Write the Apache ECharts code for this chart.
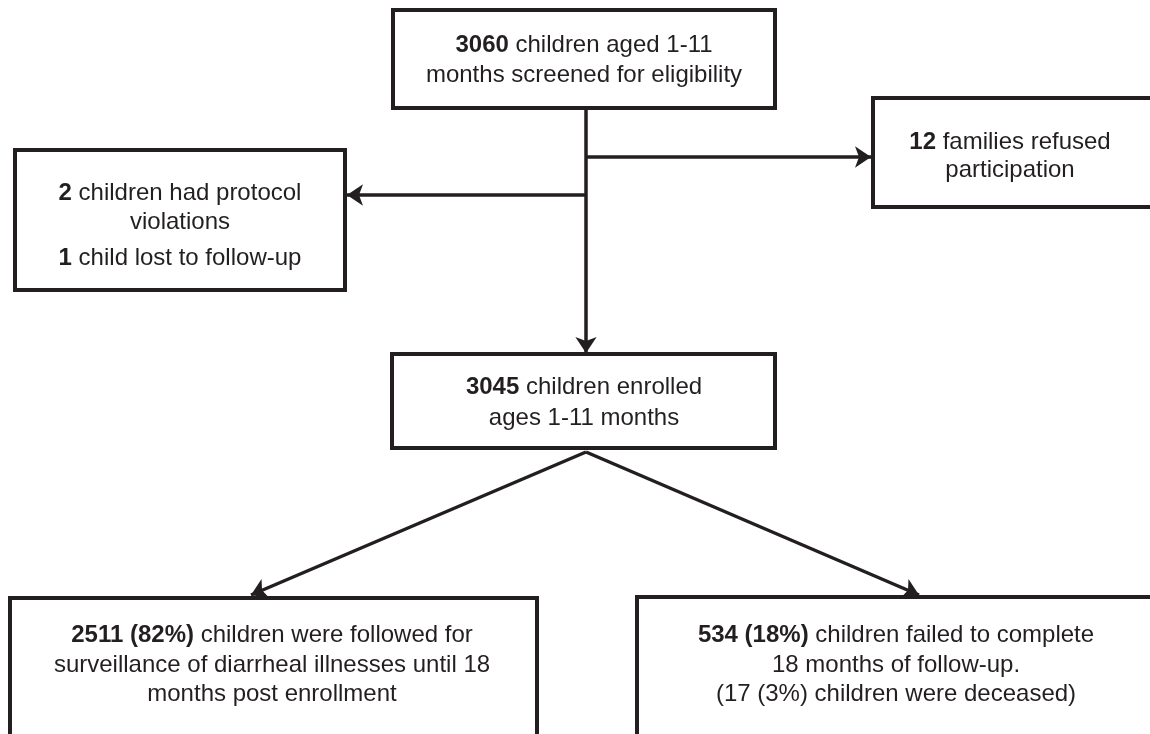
<!DOCTYPE html>
<html>
<head>
<meta charset="utf-8">
<script src="https://cdn.jsdelivr.net/npm/echarts@6/dist/echarts.min.js"></script>
<style>
  html, body { margin: 0; padding: 0; background: #fff; }
  #main { width: 1150px; height: 734px; }
</style>
</head>
<body>
<div id="main"></div>
<script>
// counts
const stepNames = ['screened', 'refused', 'excluded', 'enrolled', 'followed', 'failed']
const stepCounts = [3060, 12, 2, 3045, 2511, 534]
const lostCount = 1
const stepPercents = [null, null, null, null, 82, 18]
const deceasedCount = 17
const deceasedPercent = 3

// text of each box, {b|..} parts are bold
const boxLines = [
  ['{b|' + stepCounts[0] + '} children aged 1-11', 'months screened for eligibility'],
  ['{b|' + stepCounts[1] + '} families refused', 'participation'],
  ['{b|' + stepCounts[2] + '} children had protocol', 'violations', '{b|' + lostCount + '} child lost to follow-up'],
  ['{b|' + stepCounts[3] + '} children enrolled', 'ages 1-11 months'],
  ['{b|' + stepCounts[4] + ' (' + stepPercents[4] + '%)} children were followed for',
    'surveillance of diarrheal illnesses until 18', 'months post enrollment'],
  ['{b|' + stepCounts[5] + ' (' + stepPercents[5] + '%)} children failed to complete',
    '18 months of follow-up.', '(' + deceasedCount + ' (' + deceasedPercent + '%) children were deceased)']
]

// layout of the boxes in the diagram's own units
const boxRects = [
  [393, 10, 775, 108],
  [873, 98, 1160, 207],
  [15, 150, 345, 290],
  [392, 354, 775, 448],
  [10, 598, 537, 745],
  [637, 597, 1160, 745]
]
const textCenterX = [584, 1010, 180, 584, 272, 896]
const textLineY = [
  [45, 75],
  [142, 170],
  [193, 222, 258],
  [387, 418],
  [635, 665, 694],
  [635, 665, 694]
]

// connectors: start and end in diagram units
const arrowPaths = [
  [[586, 108], [586, 353]],
  [[586, 157], [871, 157]],
  [[586, 195], [347, 195]],
  [[586, 452], [251, 595]],
  [[586, 452], [919, 595]]
]

const ink = '#231f20'
const family = '"Liberation Sans", Arial, Helvetica, sans-serif'

var myChart = echarts.init(document.getElementById('main'))

function renderBox(params, api) {
  const i = params.dataIndex
  const r = boxRects[i]
  const p0 = api.coord([r[0], r[1]])
  const p1 = api.coord([r[2], r[3]])
  const children = [{
    type: 'rect',
    shape: { x: p0[0], y: p0[1], width: p1[0] - p0[0], height: p1[1] - p0[1] },
    style: { fill: '#fff', stroke: ink, lineWidth: 4 }
  }]
  boxLines[i].forEach(function (line, k) {
    const pt = api.coord([textCenterX[i], textLineY[i][k]])
    children.push({
      type: 'text',
      x: pt[0],
      y: pt[1],
      style: {
        text: line,
        fill: ink,
        fontFamily: family,
        fontSize: 24,
        align: 'center',
        verticalAlign: 'middle',
        rich: {
          b: { fontWeight: 'bold', fontFamily: family, fontSize: 24, fill: ink }
        }
      }
    })
  })
  return { type: 'group', children: children }
}

var option = {
  backgroundColor: '#fff',
  animation: false,
  grid: { left: 0, right: 0, top: 0, bottom: 0 },
  xAxis: { type: 'value', min: 0, max: 1150, show: false },
  yAxis: { type: 'value', min: 0, max: 734, inverse: true, show: false },
  series: [
    {
      type: 'lines',
      coordinateSystem: 'cartesian2d',
      z: 1,
      symbol: ['none', 'arrow'],
      symbolSize: 16,
      lineStyle: { color: ink, width: 3.5, opacity: 1 },
      data: arrowPaths.map(function (c) { return { coords: c } })
    },
    {
      type: 'custom',
      coordinateSystem: 'cartesian2d',
      z: 2,
      clip: false,
      renderItem: renderBox,
      data: stepNames.map(function (n, i) { return [i, stepCounts[i]] })
    }
  ]
}
myChart.setOption(option)
</script>
</body>
</html>
